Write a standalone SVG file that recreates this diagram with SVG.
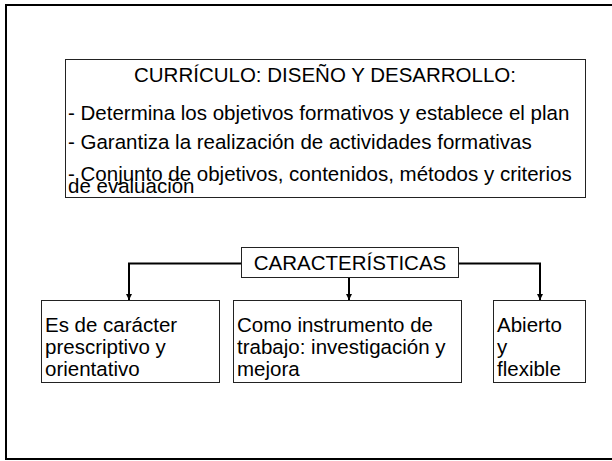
<svg xmlns="http://www.w3.org/2000/svg" width="612" height="461" viewBox="0 0 612 461">
<defs>
<style>
text{font-family:"Liberation Sans",Arial,sans-serif;font-size:20.5px;fill:#000}
.box{fill:#fff;stroke:#222;stroke-width:1}
.conn{fill:none;stroke:#000;stroke-width:2}
</style>
<marker id="ah" viewBox="0 0 10 10" refX="10" refY="5" markerWidth="3.2" markerHeight="3.2" orient="auto" markerUnits="strokeWidth">
<path d="M0,0 L10,5 L0,10 z" fill="#000"/>
</marker>
</defs>
<rect width="612" height="461" fill="#fff"/>
<rect x="6" y="5" width="700" height="454" fill="none" stroke="#000" stroke-width="2"/>
<g id="curriculo">
<rect class="box" x="65.5" y="59.5" width="520" height="138"/>
<text x="325" y="82" text-anchor="middle">CURRÍCULO: DISEÑO Y DESARROLLO:</text>
<text x="68" y="120">- Determina los objetivos formativos y establece el plan</text>
<text x="68" y="149">- Garantiza la realización de actividades formativas</text>
<text x="68" y="181">- Conjunto de objetivos, contenidos, métodos y criterios</text>
<text x="68" y="193">de evaluación</text>
</g>
<g id="connectors">
<path class="conn" d="M241,263.5 H129 V300" marker-end="url(#ah)"/>
<path class="conn" d="M349,277 V300" marker-end="url(#ah)"/>
<path class="conn" d="M458,263.5 H540 V300" marker-end="url(#ah)"/>
</g>
<g id="caracteristicas">
<rect class="box" x="241.5" y="247.5" width="217" height="30"/>
<text x="350" y="270" text-anchor="middle">CARACTERÍSTICAS</text>
</g>
<g id="prescriptivo">
<rect class="box" x="41.5" y="300.5" width="178" height="82"/>
<text x="45" y="332">Es de carácter</text>
<text x="45" y="354">prescriptivo y</text>
<text x="45" y="376">orientativo</text>
</g>
<g id="instrumento">
<rect class="box" x="233.5" y="300.5" width="228" height="82"/>
<text x="237" y="332">Como instrumento de</text>
<text x="237" y="354">trabajo: investigación y</text>
<text x="237" y="376">mejora</text>
</g>
<g id="abierto">
<rect class="box" x="493.5" y="300.5" width="92" height="82"/>
<text x="497" y="332">Abierto</text>
<text x="497" y="354">y</text>
<text x="497" y="376">flexible</text>
</g>
</svg>
